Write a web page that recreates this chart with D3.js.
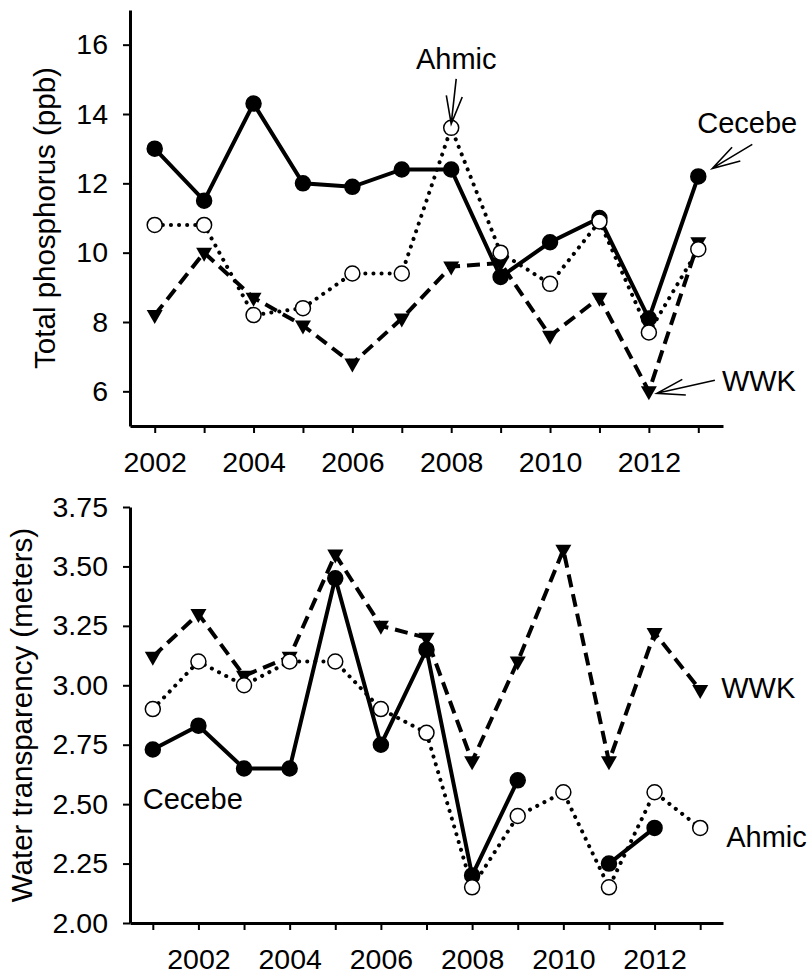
<!DOCTYPE html>
<meta charset="utf-8">
<style>
    body { margin: 0; background: #fff; }
    text { font-family: "Liberation Sans", Arial, sans-serif; fill: #000; }
    .axis text { font-size: 28.5px; }
    .axis .domain { stroke: #000; stroke-width: 3; }
    .axis .tick line { stroke: #000; stroke-width: 2; }
    .title { font-size: 29.5px; }
    .label { font-size: 29px; }
    .arrow { fill: none; stroke: #000; stroke-width: 1.6; }
</style>
<svg width="812" height="975"></svg>
<script src="https://d3js.org/d3.v7.min.js"></script>
<script>

    // top panel: total phosphorus (ppb)
    var tpYears  = [2002, 2003, 2004, 2005, 2006, 2007, 2008, 2009, 2010, 2011, 2012, 2013];
    var tpCecebe = [13.0, 11.5, 14.3, 12.0, 11.9, 12.4, 12.4, 9.3, 10.3, 11.0, 8.1, 12.2];
    var tpAhmic  = [10.8, 10.8, 8.2, 8.4, 9.4, 9.4, 13.6, 10.0, 9.1, 10.9, 7.7, 10.1];
    var tpWWK    = [8.2, 10.0, 8.7, 7.9, 6.8, 8.1, 9.6, 9.7, 7.6, 8.7, 6.0, 10.3];
    var tpTicks  = [6, 8, 10, 12, 14, 16];

    // bottom panel: water transparency (meters)
    var wtYears  = [2001, 2002, 2003, 2004, 2005, 2006, 2007, 2008, 2009, 2010, 2011, 2012, 2013];
    var wtCecebe = [2.73, 2.83, 2.65, 2.65, 3.45, 2.75, 3.15, 2.20, 2.60, null, 2.25, 2.40, null];
    var wtAhmic  = [2.90, 3.10, 3.00, 3.10, 3.10, 2.90, 2.80, 2.15, 2.45, 2.55, 2.15, 2.55, 2.40];
    var wtWWK    = [3.12, 3.30, 3.04, 3.12, 3.55, 3.25, 3.20, 2.68, 3.10, 3.57, 2.68, 3.22, 2.98];
    var wtTicks  = [2.00, 2.25, 2.50, 2.75, 3.00, 3.25, 3.50, 3.75];

    var svg = d3.select("svg");

    var styles = {
        Cecebe: { dash: null, cap: "butt", marker: "filled" },
        Ahmic:  { dash: "0.1,8", cap: "round", marker: "open" },
        WWK:    { dash: "13,7", cap: "butt", marker: "tri" }
    };

    function panel(cfg) {
        var x = d3.scaleLinear().domain(cfg.xDomain).range([130, 723]);
        var y = d3.scaleLinear().domain(cfg.yDomain).range(cfg.yRange);
        var g = svg.append("g");

        g.append("g")
            .attr("class", "axis")
            .attr("transform", "translate(0," + cfg.yRange[0] + ")")
            .call(d3.axisBottom(x)
                .tickValues(cfg.years)
                .tickSize(7)
                .tickSizeOuter(0)
                .tickPadding(cfg.xPad)
                .tickFormat(function(d) { return d % 2 === 0 ? d : ""; }));

        g.append("g")
            .attr("class", "axis")
            .attr("transform", "translate(130,0)")
            .call(d3.axisLeft(y)
                .tickValues(cfg.yTicks)
                .tickSize(7)
                .tickSizeOuter(0)
                .tickPadding(15)
                .tickFormat(cfg.fmt));

        g.append("text")
            .attr("class", "title")
            .attr("transform", "translate(" + cfg.titleX + "," + cfg.titleY + ") rotate(-90)")
            .attr("text-anchor", "middle")
            .text(cfg.title);

        // draw order: WWK, Cecebe, Ahmic
        ["WWK", "Cecebe", "Ahmic"].forEach(function(name) {
            var st = styles[name];
            var pts = cfg.years.map(function(yr, i) { return [yr, cfg.series[name][i]]; });
            var line = d3.line()
                .defined(function(d) { return d[1] != null; })
                .x(function(d) { return x(d[0]); })
                .y(function(d) { return y(d[1]); });

            g.append("path")
                .datum(pts)
                .attr("fill", "none")
                .attr("stroke", "#000")
                .attr("stroke-width", 4)
                .attr("stroke-linecap", st.cap)
                .attr("stroke-dasharray", st.dash)
                .attr("d", line);

            var dots = g.selectAll(".m-" + name)
                .data(pts.filter(function(d) { return d[1] != null; }))
                .enter();

            if (st.marker === "tri") {
                dots.append("path")
                    .attr("d", "M-8,-5L8,-5L0,9Z")
                    .attr("fill", "#000")
                    .attr("transform", function(d) { return "translate(" + x(d[0]) + "," + y(d[1]) + ")"; });
            } else {
                dots.append("circle")
                    .attr("cx", function(d) { return x(d[0]); })
                    .attr("cy", function(d) { return y(d[1]); })
                    .attr("r", 7.5)
                    .attr("fill", st.marker === "open" ? "#fff" : "#000")
                    .attr("stroke", "#000")
                    .attr("stroke-width", 1.5);
            }
        });

        cfg.labels.forEach(function(l) {
            g.append("text")
                .attr("class", "label")
                .attr("x", x(l.year) + l.dx)
                .attr("y", y(l.value) + l.dy)
                .attr("text-anchor", l.anchor || "start")
                .text(l.text);
        });

        (cfg.arrows || []).forEach(function(a) {
            var px = x(a.year), py = y(a.value);
            var tx = px + a.tip[0], ty = py + a.tip[1];
            var sx = px + a.tail[0], sy = py + a.tail[1];
            var ang = Math.atan2(sy - ty, sx - tx), len = 29, spread = 0.28;
            var h1 = [tx + len * Math.cos(ang - spread), ty + len * Math.sin(ang - spread)];
            var h2 = [tx + len * Math.cos(ang + spread), ty + len * Math.sin(ang + spread)];
            g.append("path")
                .attr("class", "arrow")
                .attr("d", "M" + sx + "," + sy + "L" + tx + "," + ty +
                    "M" + h1[0] + "," + h1[1] + "L" + tx + "," + ty + "L" + h2[0] + "," + h2[1]);
        });
    }

    panel({
        years: tpYears,
        xDomain: [2001.5, 2013.5],
        yDomain: [5, 17],
        yRange: [426, 10],
        yTicks: tpTicks,
        fmt: d3.format("d"),
        xPad: 19,
        title: "Total phosphorus (ppb)",
        titleX: 55, titleY: 218,
        series: { Cecebe: tpCecebe, Ahmic: tpAhmic, WWK: tpWWK },
        labels: [
            { text: "Ahmic", year: 2008, value: 13.6, dx: 5, dy: -59, anchor: "middle" },
            { text: "Cecebe", year: 2013, value: 12.2, dx: -1, dy: -43 },
            { text: "WWK", year: 2012, value: 6.0, dx: 73, dy: 0 }
        ],
        arrows: [
            { year: 2008, value: 13.6, tip: [0, -4], tail: [5, -49] },
            { year: 2013, value: 12.2, tip: [14, -8], tail: [54, -32] },
            { year: 2012, value: 6.0, tip: [8, 2], tail: [66, -11] }
        ]
    });

    panel({
        years: wtYears,
        xDomain: [2000.5, 2013.5],
        yDomain: [2, 3.75],
        yRange: [923, 507],
        yTicks: wtTicks,
        fmt: d3.format(".2f"),
        xPad: 19,
        title: "Water transparency (meters)",
        titleX: 32, titleY: 715,
        series: { Cecebe: wtCecebe, Ahmic: wtAhmic, WWK: wtWWK },
        labels: [
            { text: "Cecebe", year: 2001, value: 2.73, dx: -10, dy: 60 },
            { text: "WWK", year: 2013, value: 2.98, dx: 21, dy: 8 },
            { text: "Ahmic", year: 2013, value: 2.40, dx: 26, dy: 19 }
        ]
    });

</script>
